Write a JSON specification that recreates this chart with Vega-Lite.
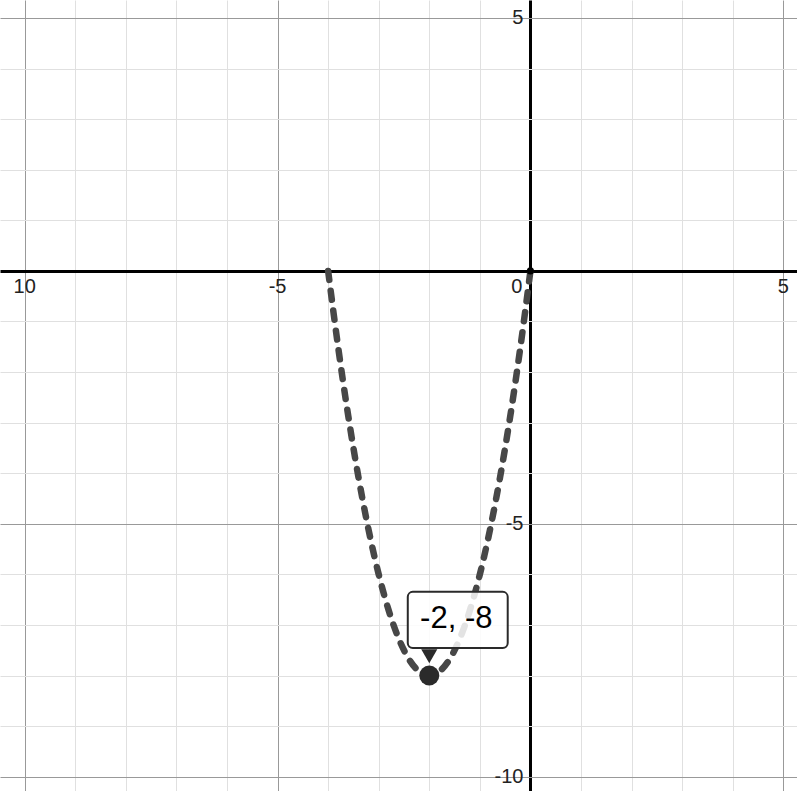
{
  "$schema": "https://vega.github.io/schema/vega-lite/v6.json",
  "width": 797,
  "height": 791,
  "padding": 0,
  "autosize": {"type": "fit", "contains": "padding"},
  "background": "white",
  "config": {"view": {"stroke": null}, "font": "Liberation Sans"},
  "datasets": {
    "curve": [
      {"x": -4.0, "y": 0}, {"x": -3.8, "y": -1.52}, {"x": -3.6, "y": -2.88}, {"x": -3.4, "y": -4.08},
      {"x": -3.2, "y": -5.12}, {"x": -3.0, "y": -6.0}, {"x": -2.8, "y": -6.72}, {"x": -2.6, "y": -7.28},
      {"x": -2.4, "y": -7.68}, {"x": -2.2, "y": -7.92}, {"x": -2.0, "y": -8.0}, {"x": -1.8, "y": -7.92},
      {"x": -1.6, "y": -7.68}, {"x": -1.4, "y": -7.28}, {"x": -1.2, "y": -6.72}, {"x": -1.0, "y": -6.0},
      {"x": -0.8, "y": -5.12}, {"x": -0.6, "y": -4.08}, {"x": -0.4, "y": -2.88}, {"x": -0.2, "y": -1.52},
      {"x": 0.0, "y": 0}
    ],
    "vertex": [{"x": -2, "y": -8}],
    "origin": [{"x": 0, "y": 0}],
    "box": [{"x1": -2.425, "x2": -0.449, "y1": -6.346, "y2": -7.454}],
    "pointer": [{"x": -2, "y": -7.62}],
    "boxText": [{"x": -1.466, "y": -6.88, "t": "-2, -8"}],
    "xLabels": [{"v": -10, "t": "10"}, {"v": -5, "t": "-5"}, {"v": 5, "t": "5"}],
    "yLabels": [{"v": 5, "t": "5"}, {"v": -5, "t": "-5"}, {"v": -10, "t": "-10"}],
    "zeroLabel": [{"v": 0, "t": "0"}]
  },
  "layer": [
    {
      "data": {"name": "curve"},
      "mark": {"type": "line", "color": "#474747", "strokeWidth": 6.5, "strokeDash": [9, 11], "strokeCap": "round", "interpolate": "monotone"},
      "encoding": {
        "x": {
          "field": "x", "type": "quantitative",
          "scale": {"domain": [-10.488, 5.271], "nice": false, "zero": false},
          "axis": {
            "title": null, "labels": false, "ticks": false, "domain": false, "grid": true,
            "values": [-10, -9, -8, -7, -6, -5, -4, -3, -2, -1, 0, 1, 2, 3, 4, 5],
            "gridColor": {"condition": [{"test": "datum.value === 0", "value": "#000000"}, {"test": "datum.value % 5 === 0", "value": "#999999"}], "value": "#e0e0e0"},
            "gridWidth": {"condition": {"test": "datum.value === 0", "value": 3}, "value": 1},
            "gridOpacity": 1
          }
        },
        "y": {
          "field": "y", "type": "quantitative",
          "scale": {"domain": [-10.283, 5.356], "nice": false, "zero": false},
          "axis": {
            "title": null, "labels": false, "ticks": false, "domain": false, "grid": true,
            "values": [-10, -9, -8, -7, -6, -5, -4, -3, -2, -1, 0, 1, 2, 3, 4, 5],
            "gridColor": {"condition": [{"test": "datum.value === 0", "value": "#000000"}, {"test": "datum.value % 5 === 0", "value": "#999999"}], "value": "#e0e0e0"},
            "gridWidth": {"condition": {"test": "datum.value === 0", "value": 3}, "value": 1},
            "gridOpacity": 1
          }
        }
      }
    },
    {
      "data": {"name": "origin"},
      "mark": {"type": "point", "filled": true, "shape": "circle", "size": 50, "color": "#000000", "opacity": 1},
      "encoding": {"x": {"field": "x", "type": "quantitative"}, "y": {"field": "y", "type": "quantitative"}}
    },
    {
      "data": {"name": "vertex"},
      "mark": {"type": "point", "filled": true, "shape": "circle", "size": 400, "color": "#2b2b2b", "opacity": 1},
      "encoding": {"x": {"field": "x", "type": "quantitative"}, "y": {"field": "y", "type": "quantitative"}}
    },
    {
      "data": {"name": "box"},
      "mark": {"type": "rect", "fill": "#ffffff", "fillOpacity": 0.85, "stroke": "#2a2a2a", "strokeWidth": 2, "cornerRadius": 5},
      "encoding": {
        "x": {"field": "x1", "type": "quantitative"}, "x2": {"field": "x2"},
        "y": {"field": "y1", "type": "quantitative"}, "y2": {"field": "y2"}
      }
    },
    {
      "data": {"name": "pointer"},
      "mark": {"type": "point", "filled": true, "shape": "triangle-down", "size": 260, "color": "#2a2a2a", "opacity": 1},
      "encoding": {"x": {"field": "x", "type": "quantitative"}, "y": {"field": "y", "type": "quantitative"}}
    },
    {
      "data": {"name": "boxText"},
      "mark": {"type": "text", "fontSize": 31, "color": "#000000", "align": "center", "baseline": "middle"},
      "encoding": {"x": {"field": "x", "type": "quantitative"}, "y": {"field": "y", "type": "quantitative"}, "text": {"field": "t"}}
    },
    {
      "data": {"name": "xLabels"},
      "mark": {"type": "text", "fontSize": 20, "color": "#222222", "align": "center", "baseline": "middle", "dy": 16},
      "encoding": {"x": {"field": "v", "type": "quantitative"}, "y": {"datum": 0, "type": "quantitative"}, "text": {"field": "t"}}
    },
    {
      "data": {"name": "yLabels"},
      "mark": {"type": "text", "fontSize": 20, "color": "#222222", "align": "right", "baseline": "middle", "dx": -7},
      "encoding": {"x": {"datum": 0, "type": "quantitative"}, "y": {"field": "v", "type": "quantitative"}, "text": {"field": "t"}}
    },
    {
      "data": {"name": "zeroLabel"},
      "mark": {"type": "text", "fontSize": 20, "color": "#222222", "align": "right", "baseline": "middle", "dx": -8, "dy": 16},
      "encoding": {"x": {"field": "v", "type": "quantitative"}, "y": {"field": "v", "type": "quantitative"}, "text": {"field": "t"}}
    }
  ]
}
